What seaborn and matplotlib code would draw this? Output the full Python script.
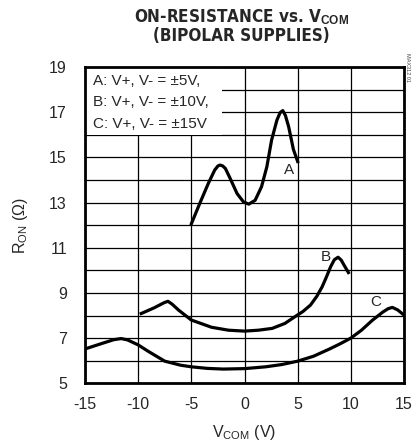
import numpy as np
import pandas as pd
import matplotlib
matplotlib.use("Agg")
import matplotlib.pyplot as plt
from matplotlib.patches import Rectangle
import seaborn as sns

# Curve A: V+, V- = +/-5V
a_vcom = [-5.05, -4.2, -3.4, -2.8, -2.5, -2.3, -2.05, -1.8, -1.35, -0.7, -0.1, 0.4,
          1.0, 1.6, 2.1, 2.55, 3.05, 3.35, 3.6, 3.85, 4.15, 4.6, 5.05]
a_ron = [12.0, 12.97, 13.85, 14.44, 14.62, 14.66, 14.62, 14.51, 14.07, 13.4, 13.03,
         12.93, 13.1, 13.7, 14.58, 15.77, 16.65, 16.98, 17.07, 16.85, 16.36, 15.35, 14.75]

# Curve B: V+, V- = +/-10V
b_vcom = [-9.85, -8.5, -7.55, -7.2, -6.8, -6.2, -5.0, -3.1, -1.5, 0, 1.3, 2.6,
          3.8, 4.75, 5.5, 6.2, 6.8, 7.3, 7.7, 8.1, 8.45, 8.8, 9.1, 9.35, 9.85]
b_ron = [8.06, 8.34, 8.57, 8.63, 8.5, 8.24, 7.8, 7.48, 7.35, 7.31, 7.35, 7.43,
         7.65, 7.95, 8.18, 8.46, 8.85, 9.27, 9.7, 10.16, 10.47, 10.58, 10.45, 10.24, 9.84]

# Curve C: V+, V- = +/-15V
c_vcom = [-15, -13.5, -12.3, -11.6, -11, -10, -9, -7.5, -6, -5, -3.5, -2, 0, 2,
          3.5, 5, 6.5, 8, 9, 10, 11, 12, 13, 13.5, 13.9, 14.4, 15]
c_ron = [6.52, 6.75, 6.93, 6.98, 6.92, 6.7, 6.4, 5.98, 5.8, 5.73, 5.66, 5.63, 5.65,
         5.73, 5.83, 5.98, 6.2, 6.52, 6.75, 7.0, 7.35, 7.78, 8.15, 8.3, 8.36, 8.25, 8.02]

curve_names = ["A", "B", "C"]
label_pos = [(4.15, 14.45), (7.6, 10.6), (12.3, 8.6)]
legend_lines = ["A: V+, V- = \u00b15V,", "B: V+, V- = \u00b110V,", "C: V+, V- = \u00b115V"]

x_ticks = [-15, -10, -5, 0, 5, 10, 15]
y_ticks = [5, 7, 9, 11, 13, 15, 17, 19]

sns.set_style("white")
plt.rcParams['font.family'] = ['Liberation Sans', 'DejaVu Sans']
plt.rcParams['mathtext.fontset'] = 'custom'
plt.rcParams['mathtext.rm'] = 'Liberation Sans'
plt.rcParams['mathtext.it'] = 'Liberation Sans'
plt.rcParams['mathtext.bf'] = 'Liberation Sans:bold'

fig = plt.figure(figsize=(4.12, 4.43), dpi=100)
ax = fig.add_axes([85 / 412, 1 - 383.3 / 443, 319 / 412, 316.3 / 443])

frames = []
for name, xs, ys in zip(curve_names, [a_vcom, b_vcom, c_vcom], [a_ron, b_ron, c_ron]):
    frames.append(pd.DataFrame({"vcom": xs, "ron": ys, "curve": name}))
df = pd.concat(frames)

for name in curve_names:
    sub = df[df["curve"] == name]
    sns.lineplot(data=sub, x="vcom", y="ron", ax=ax, color="black", lw=2.3,
                 estimator=None, sort=False, zorder=3,
                 solid_joinstyle="round", solid_capstyle="butt")

for name, (lx, ly) in zip(curve_names, label_pos):
    ax.text(lx, ly, name, fontsize=11, ha="center", va="center", zorder=4)

ax.set_xlim(-15, 15)
ax.set_ylim(5, 19)
ax.set_xticks(x_ticks)
ax.set_yticks(y_ticks)
ax.set_xticks(np.arange(-15, 16, 5), minor=True)
ax.set_yticks(np.arange(5, 20, 1), minor=True)
ax.set_xticklabels([str(t) for t in x_ticks])
ax.set_yticklabels([str(t) for t in y_ticks])
ax.tick_params(length=0, labelsize=11.5, which="both")
ax.tick_params(axis="y", pad=13)
ax.tick_params(axis="x", pad=10)
ax.grid(True, which="both", color="black", lw=0.9)
ax.set_axisbelow(True)

# white box behind the legend text
ax.add_patch(Rectangle((0, 11 / 14), 0.43, 3 / 14, transform=ax.transAxes,
                       facecolor="white", edgecolor="none", zorder=1.5))
for i, line in enumerate(legend_lines):
    ax.text(0.025, 0.956 - i * 0.068, line, transform=ax.transAxes,
            fontsize=11, ha="left", va="center", zorder=4)

for sp in ax.spines.values():
    sp.set_linewidth(2.0)
    sp.set_color("black")
    sp.set_zorder(5)

ax.set_xlabel("V$_{\\mathrm{COM}}$ (V)", fontsize=11.5, labelpad=8)
ax.set_ylabel("R$_{\\mathrm{ON}}$ (\u03a9)", fontsize=11.5, labelpad=14)

title_kw = dict(ha="center", va="center", fontweight="bold",
                family=['DejaVu Sans'], fontstretch='condensed')
t1 = fig.text(0.587, 0.961, "ON-RESISTANCE vs. V$_{\\mathbf{COM}}$", fontsize=14, **title_kw)
t2 = fig.text(0.587, 0.918, "(BIPOLAR SUPPLIES)", fontsize=14, **title_kw)
# fit the title width to the reference (about 215 px for the first line)
fig.canvas.draw()
w = t1.get_window_extent().width
scale = 215 / w
t1.set_fontsize(14 * scale)
t2.set_fontsize(14 * scale)

fig.text(0.99, 0.88, "MAX312 01", rotation=-90, fontsize=4, ha="center",
         va="top", color="#444444")

fig.savefig("out.png", dpi=100)
